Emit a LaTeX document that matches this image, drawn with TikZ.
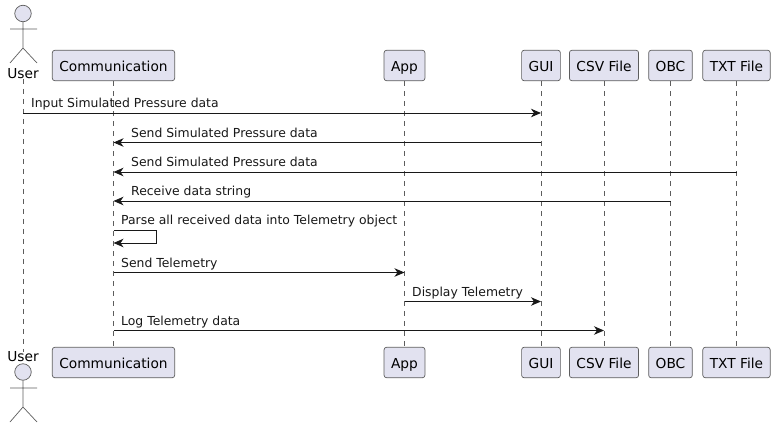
\documentclass[tikz,border=0pt]{standalone}
\usepackage{fontspec}
\setmainfont{DejaVu Sans}
\definecolor{partfill}{HTML}{E2E2F0}
\definecolor{partline}{HTML}{181818}
\usetikzlibrary{arrows.meta,positioning}
\begin{document}
\begin{tikzpicture}[x=1pt,y=-1pt,
    part/.style={draw=partline!70,line width=0.7pt,rounded corners=2.5pt,fill=partfill,minimum height=30.5pt,inner xsep=7pt,inner ysep=0pt,text height=13pt,text depth=2pt,font=\fontsize{13.75}{16}\selectfont},
    stick/.style={draw=partline!70,line width=0.7pt},
    head/.style={circle,draw=partline!70,line width=0.7pt,fill=partfill,minimum size=16.5pt,inner sep=0pt},
    who/.style={inner sep=0pt,font=\fontsize{13.75}{16}\selectfont},
    life/.style={draw=partline!70,line width=0.6pt,dash pattern=on 5pt off 5pt},
    msg/.style={-{Stealth[length=10pt,width=8.5pt,inset=3pt]},line width=0.9pt,partline},
    msgtext/.style={anchor=base west,inner sep=0pt,font=\fontsize{12.4}{14}\selectfont,text=partline}]
    \useasboundingbox (0,0) rectangle (776,428);
    \node[part] (comm) at (113.5,65.5) {Communication};
    \node[part] (app) at (404.5,65.5) {App};
    \node[part] (gui) at (541,65.5) {GUI};
    \node[part] (csv) at (604,65.5) {CSV File};
    \node[part] (obc) at (670.5,65.5) {OBC};
    \node[part] (txt) at (736.5,65.5) {TXT File};
    \node[part] (commend) at (113.5,362.5) {Communication};
    \node[part] (append) at (404.5,362.5) {App};
    \node[part] (guiend) at (541,362.5) {GUI};
    \node[part] (csvend) at (604,362.5) {CSV File};
    \node[part] (obcend) at (670.5,362.5) {OBC};
    \node[part] (txtend) at (736.5,362.5) {TXT File};
    \node[who] (user) at (23,73.5) {User};
    \node[who] (userend) at (23,357) {User};
    \node[head] (userhead) at (23,13.5) {};
    \node[head] (userendhead) at (23,372) {};
    \coordinate (hip) at (23,48);
    \coordinate (hipend) at (23,407);
    \draw[stick] (userhead) -- (hip) -- (10,63) (hip) -- (37,63) (10,29) -- (37,29);
    \draw[stick] (userendhead) -- (hipend) -- (10,422) (hipend) -- (37,422) (10,388) -- (37,388);
    \draw[life] (user) -- (userend);
    \draw[life] (comm) -- (commend);
    \draw[life] (app) -- (append);
    \draw[life] (gui) -- (guiend);
    \draw[life] (csv) -- (csvend);
    \draw[life] (obc) -- (obcend);
    \draw[life] (txt) -- (txtend);
    \coordinate (m1) at (0,113);
    \coordinate (m2) at (0,142.5);
    \coordinate (m3) at (0,172);
    \coordinate (m4) at (0,201);
    \coordinate (m5) at (0,230);
    \coordinate (m5b) at (0,243);
    \coordinate (m6) at (0,272.5);
    \coordinate (m7) at (0,301.5);
    \coordinate (m8) at (0,330.5);
    \coordinate (loop) at (156,0);
    \draw[msg] (user |- m1) -- (gui |- m1);
    \draw[msg] (gui |- m2) -- (comm |- m2);
    \draw[msg] (txt |- m3) -- (comm |- m3);
    \draw[msg] (obc |- m4) -- (comm |- m4);
    \draw[msg] (comm |- m5) -- (loop |- m5) -- (loop |- m5b) -- (comm |- m5b);
    \draw[msg] (comm |- m6) -- (app |- m6);
    \draw[msg] (app |- m7) -- (gui |- m7);
    \draw[msg] (comm |- m8) -- (csv |- m8);
    \node[msgtext] (t1) at (31,107.5) {Input Simulated Pressure data};
    \node[msgtext] (t2) at (131,137) {Send Simulated Pressure data};
    \node[msgtext] (t3) at (131,166.5) {Send Simulated Pressure data};
    \node[msgtext] (t4) at (131,195.5) {Receive data string};
    \node[msgtext] (t5) at (121,224.5) {Parse all received data into Telemetry object};
    \node[msgtext] (t6) at (121,267) {Send Telemetry};
    \node[msgtext] (t7) at (412,296) {Display Telemetry};
    \node[msgtext] (t8) at (121,325) {Log Telemetry data};
  \end{tikzpicture}
\end{document}
